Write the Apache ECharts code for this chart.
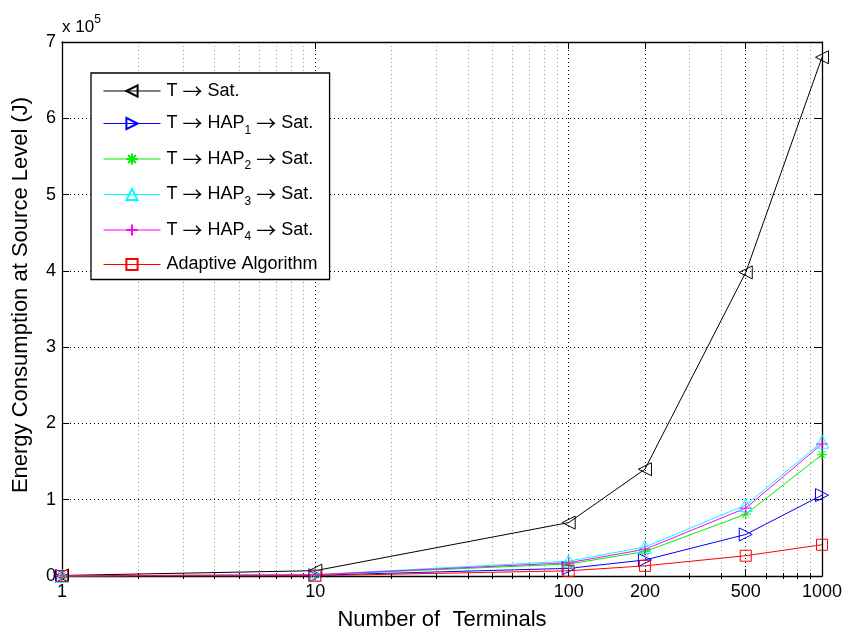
<!DOCTYPE html>
<html>
<head>
<meta charset="utf-8">
<script src="https://cdn.jsdelivr.net/npm/echarts@6/dist/echarts.min.js"></script>
<style>html,body{margin:0;padding:0;background:#fff}#c{width:844px;height:632px}</style>
</head>
<body>
<div id="c"></div>
<script>
var terminals = [1, 10, 100, 200, 500, 1000];
var majorTicks = [1, 10, 100, 200, 500, 1000];
var minorTicks = [2,3,4,5,6,7,8,9,20,30,40,50,60,70,80,90,300,400,600,700,800,900];
var yTicks = [0,1,2,3,4,5,6,7];

var tSat  = [700, 7000, 70000, 140000, 398000, 680000];
var hap1  = [100, 1000, 10000, 21000, 54500, 106000];
var hap2  = [150, 1600, 15700, 32000, 81000, 159000];
var hap3  = [180, 1800, 19500, 38000, 93000, 176000];
var hap4  = [170, 1700, 17400, 35000, 89000, 173000];
var adapt = [40, 400, 6800, 13300, 26600, 41000];

var names = ['T \u2192 Sat.', 'T \u2192 HAP1 \u2192 Sat.', 'T \u2192 HAP2 \u2192 Sat.', 'T \u2192 HAP3 \u2192 Sat.', 'T \u2192 HAP4 \u2192 Sat.', 'Adaptive Algorithm'];
var legendRich = {
  'T \u2192 Sat.': '{a|T }{r|\u2192}{a| Sat.}',
  'T \u2192 HAP1 \u2192 Sat.': '{a|T }{r|\u2192}{a| HAP}{s|1}{a| }{r|\u2192}{a| Sat.}',
  'T \u2192 HAP2 \u2192 Sat.': '{a|T }{r|\u2192}{a| HAP}{s|2}{a| }{r|\u2192}{a| Sat.}',
  'T \u2192 HAP3 \u2192 Sat.': '{a|T }{r|\u2192}{a| HAP}{s|3}{a| }{r|\u2192}{a| Sat.}',
  'T \u2192 HAP4 \u2192 Sat.': '{a|T }{r|\u2192}{a| HAP}{s|4}{a| }{r|\u2192}{a| Sat.}',
  'Adaptive Algorithm': '{a|Adaptive Algorithm}'
};
var colors = ['#000000', '#0000ff', '#00ee00', '#00ffff', '#ff00ff', '#ff0000'];
var FONT = 'Liberation Sans, Arial, Helvetica, sans-serif';

var plusPath = 'path://M0,-10L0,10M-10,0L10,0';
var starPath = 'path://M0,-10L0,10M-10,0L10,0M-7.07,-7.07L7.07,7.07M-7.07,7.07L7.07,-7.07';
var symbols = ['triangle', 'triangle', starPath, 'triangle', plusPath, 'rect'];
var rotates = [90, -90, 0, 0, 0, 0];
var sizes = [13, 13, 10, 13, 12, 11];
var allData = [tSat, hap1, hap2, hap3, hap4, adapt];

function pairs(vals) { return terminals.map(function (t, i) { return [t, vals[i]]; }); }

var series = allData.map(function (vals, i) {
  return {
    name: names[i], type: 'line', xAxisIndex: 0, yAxisIndex: 0,
    data: pairs(vals),
    symbol: symbols[i], symbolRotate: rotates[i], symbolSize: sizes[i],
    showAllSymbol: true, clip: false,
    lineStyle: { color: colors[i], width: 1 },
    itemStyle: { color: 'transparent', borderColor: colors[i], borderWidth: 1 },
    emphasis: { disabled: true }
  };
});

var baseX = { type: 'log', logBase: 10, min: 1, max: 1000, gridIndex: 0 };
var chart = echarts.init(document.getElementById('c'), null, { renderer: 'canvas' });
chart.setOption({
  animation: false,
  backgroundColor: '#fff',
  textStyle: { fontFamily: FONT },
  grid: { left: 62, right: 22, top: 42, bottom: 56, containLabel: false, outerBoundsMode: 'none' },
  graphic: [{
    type: 'text', left: 62, top: 14,
    style: {
      text: '{a|x 10}{b|5}', font: '16px ' + FONT,
      rich: { a: { fontSize: 17, fontFamily: FONT, fill: '#000', verticalAlign: 'bottom', lineHeight: 22 },
              b: { fontSize: 12, fontFamily: FONT, fill: '#000', verticalAlign: 'top', lineHeight: 22 } }
    }
  }],
  legend: {
    orient: 'vertical', left: 91, top: 73,
    data: names,
    backgroundColor: '#fff', borderColor: '#000', borderWidth: 1.3,
    padding: [8, 12, 6, 12], itemGap: 12.5,
    itemWidth: 57, itemHeight: 14,
    lineStyle: { width: 1 },
    formatter: function (n) { return legendRich[n]; },
    textStyle: {
      color: '#000', fontFamily: FONT, fontSize: 18, padding: [0, 0, 0, 1],
      rich: {
        a: { fontSize: 18, fontFamily: FONT, color: '#000', lineHeight: 26 },
        r: { fontSize: 20, fontFamily: 'Noto Sans CJK SC', color: '#000', lineHeight: 26 },
        s: { fontSize: 12, fontFamily: FONT, color: '#000', lineHeight: 12, verticalAlign: 'bottom' }
      }
    },
    selectedMode: false
  },
  xAxis: [
    Object.assign({}, baseX, {
      position: 'bottom', name: 'Number of  Terminals', nameLocation: 'middle', nameGap: 33,
      nameTextStyle: { fontSize: 22, color: '#000', fontFamily: FONT },
      axisLine: { show: true, onZero: false, lineStyle: { color: '#000', width: 1.3 } },
      axisTick: { show: true, inside: true, length: 7, customValues: majorTicks, lineStyle: { color: '#000' } },
      axisLabel: { show: true, customValues: majorTicks, fontSize: 18, color: '#000', margin: 7, fontFamily: FONT,
                   formatter: function (v) { return String(Math.round(v)); } },
      splitLine: { show: true, lineStyle: { color: '#000', type: [1, 3], width: 1 } },
      minorTick: { show: false }
    }),
    Object.assign({}, baseX, {
      position: 'top',
      axisLine: { show: true, onZero: false, lineStyle: { color: '#000', width: 1.3 } },
      axisTick: { show: true, inside: true, length: 7, customValues: majorTicks, lineStyle: { color: '#000' } },
      axisLabel: { show: false },
      splitLine: { show: false }
    }),
    Object.assign({}, baseX, {
      position: 'bottom',
      axisLine: { show: false },
      axisTick: { show: true, inside: true, length: 3, customValues: minorTicks, lineStyle: { color: '#000' } },
      axisLabel: { show: false },
      splitLine: { show: true, lineStyle: { color: '#999', type: [1, 3], width: 1 } }
    }),
    Object.assign({}, baseX, {
      position: 'top',
      axisLine: { show: false },
      axisTick: { show: true, inside: true, length: 3, customValues: minorTicks, lineStyle: { color: '#000' } },
      axisLabel: { show: false },
      splitLine: { show: false }
    })
  ],
  yAxis: [
    {
      type: 'value', min: 0, max: 700000, interval: 100000, position: 'left',
      name: 'Energy Consumption at Source Level (J)', nameLocation: 'middle', nameGap: 30,
      nameTextStyle: { fontSize: 22, color: '#000', fontFamily: FONT, padding: [0, 0, 0, 28] },
      axisLine: { show: true, onZero: false, lineStyle: { color: '#000', width: 1.3 } },
      axisTick: { show: true, inside: true, length: 7, lineStyle: { color: '#000' } },
      axisLabel: { fontSize: 18, color: '#000', margin: 6, fontFamily: FONT,
                   formatter: function (v) { return String(yTicks[Math.round(v / 100000)]); } },
      splitLine: { show: true, lineStyle: { color: '#000', type: [1, 3], width: 1 } }
    },
    {
      type: 'value', min: 0, max: 700000, interval: 100000, position: 'right',
      axisLine: { show: true, onZero: false, lineStyle: { color: '#000', width: 1.3 } },
      axisTick: { show: true, inside: true, length: 7, lineStyle: { color: '#000' } },
      axisLabel: { show: false },
      splitLine: { show: false }
    }
  ],
  series: series
});
</script>
</body>
</html>
